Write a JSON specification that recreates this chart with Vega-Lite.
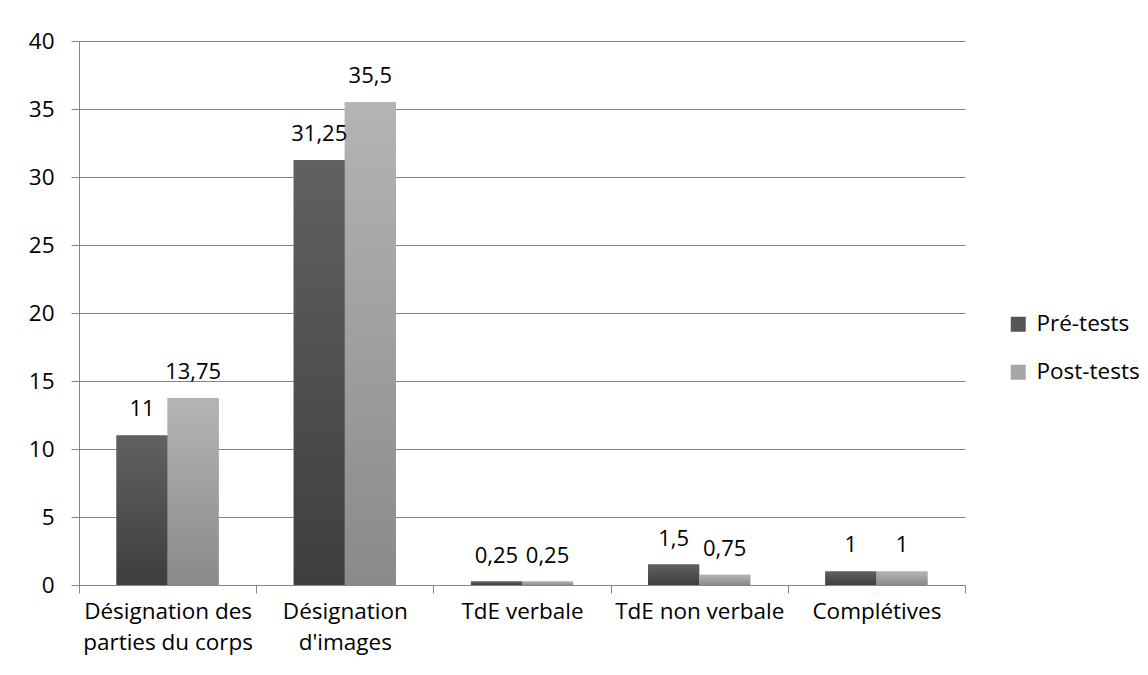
{
  "$schema": "https://vega.github.io/schema/vega-lite/v6.json",
  "width": 886,
  "height": 544,
  "autosize": "none",
  "padding": {"left": 79, "top": 41, "right": 183, "bottom": 90},
  "background": "white",
  "config": {
    "font": "Open Sans",
    "view": {"stroke": null},
    "locale": {"number": {"decimal": ",", "thousands": " ", "grouping": [3], "currency": ["", " €"]}}
  },
  "data": {
    "values": [
      {"categorie": "Désignation des parties du corps", "serie": "Pré-tests", "valeur": 11},
      {"categorie": "Désignation des parties du corps", "serie": "Post-tests", "valeur": 13.75},
      {"categorie": "Désignation d'images", "serie": "Pré-tests", "valeur": 31.25},
      {"categorie": "Désignation d'images", "serie": "Post-tests", "valeur": 35.5},
      {"categorie": "TdE verbale", "serie": "Pré-tests", "valeur": 0.25},
      {"categorie": "TdE verbale", "serie": "Post-tests", "valeur": 0.25},
      {"categorie": "TdE non verbale", "serie": "Pré-tests", "valeur": 1.5},
      {"categorie": "TdE non verbale", "serie": "Post-tests", "valeur": 0.75},
      {"categorie": "Complétives", "serie": "Pré-tests", "valeur": 1},
      {"categorie": "Complétives", "serie": "Post-tests", "valeur": 1}
    ]
  },
  "encoding": {
    "x": {
      "field": "categorie",
      "type": "nominal",
      "sort": null,
      "scale": {"paddingInner": 0, "paddingOuter": 0},
      "axis": {
        "title": null,
        "labelAngle": 0,
        "tickBand": "extent",
        "domainColor": "#868686",
        "tickColor": "#868686",
        "tickSize": 8,
        "labelFontSize": 22.5,
        "labelColor": "#000000",
        "labelPadding": 7,
        "labelLineHeight": 31,
        "labelBaseline": "top",
        "labelExpr": "datum.value == 'Désignation des parties du corps' ? ['Désignation des', 'parties du corps'] : datum.value == \"Désignation d'images\" ? ['Désignation', \"d'images\"] : datum.value"
      }
    },
    "xOffset": {
      "field": "serie",
      "type": "nominal",
      "scale": {"domain": ["Pré-tests", "Post-tests"], "paddingInner": 0, "paddingOuter": 0.735}
    },
    "y": {
      "field": "valeur",
      "type": "quantitative",
      "scale": {"domain": [0, 40], "nice": false},
      "axis": {
        "title": null,
        "values": [0, 5, 10, 15, 20, 25, 30, 35, 40],
        "grid": true,
        "gridColor": "#868686",
        "domainColor": "#868686",
        "tickColor": "#868686",
        "tickSize": 8,
        "labelFontSize": 22.5,
        "labelColor": "#000000",
        "labelPadding": 17
      }
    }
  },
  "layer": [
    {
      "mark": {"type": "bar"},
      "encoding": {
        "color": {
          "field": "serie",
          "type": "nominal",
          "scale": {"domain": ["Pré-tests", "Post-tests"], "range": ["#555555", "#a6a6a6"]},
          "legend": {
            "title": null,
            "orient": "none",
            "legendX": 928,
            "legendY": 272,
            "symbolType": "square",
            "symbolSize": 225,
            "symbolOpacity": 1,
            "symbolStrokeWidth": 0,
            "labelFontSize": 22.5,
            "labelColor": "#000000",
            "labelOffset": 7,
            "rowPadding": 25,
            "padding": 0,
            "encode": {
              "symbols": {
                "update": {
                  "fill": {"signal": "datum.value == 'Pré-tests' ? {gradient: 'linear', x1: 0, y1: 0, x2: 0, y2: 1, stops: [{offset: 0, color: '#616161'}, {offset: 1, color: '#3e3e3e'}]} : {gradient: 'linear', x1: 0, y1: 0, x2: 0, y2: 1, stops: [{offset: 0, color: '#b4b4b4'}, {offset: 1, color: '#8a8a8a'}]}"}
                }
              }
            }
          }
        }
      }
    },
    {
      "transform": [{"filter": "datum.serie == 'Pré-tests'"}],
      "mark": {
        "type": "bar",
        "color": {"gradient": "linear", "x1": 0, "y1": 0, "x2": 0, "y2": 1,
          "stops": [{"offset": 0, "color": "#616161"}, {"offset": 1, "color": "#3e3e3e"}]}
      }
    },
    {
      "transform": [{"filter": "datum.serie == 'Post-tests'"}],
      "mark": {
        "type": "bar",
        "color": {"gradient": "linear", "x1": 0, "y1": 0, "x2": 0, "y2": 1,
          "stops": [{"offset": 0, "color": "#b4b4b4"}, {"offset": 1, "color": "#8a8a8a"}]}
      }
    },
    {
      "mark": {"type": "text", "baseline": "alphabetic", "dy": -19, "fontSize": 22, "color": "#000000"},
      "encoding": {
        "text": {"field": "valeur", "type": "quantitative", "format": ".2~f"}
      }
    }
  ]
}
